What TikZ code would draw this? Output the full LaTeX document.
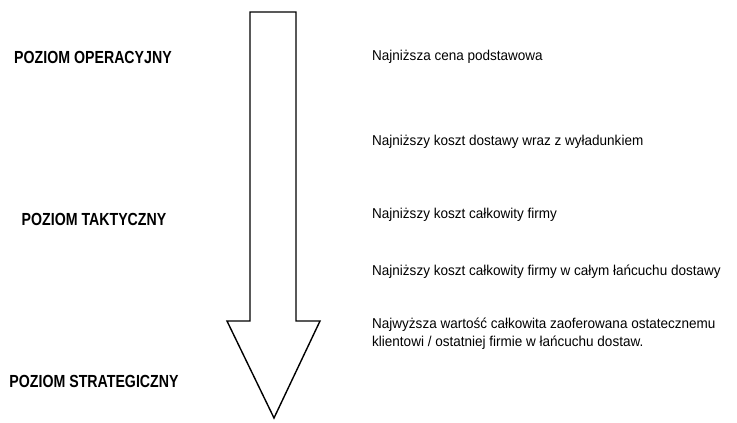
\documentclass[tikz,border=0pt]{standalone}
\usepackage{fontspec}
\setmainfont{Liberation Sans}[FakeStretch=0.945]
\newfontfamily\levelfont{Liberation Sans}[FakeStretch=0.81]
\usepackage{tikz}
\usetikzlibrary{positioning}

\begin{document}
\begin{tikzpicture}[x=1pt, y=-1pt,
          level/.style={font=\levelfont\fontsize{17.5}{20}\selectfont\bfseries, anchor=center, inner sep=0pt},
          desc/.style={font=\fontsize{14.3}{18}\selectfont, anchor=west, align=left, inner sep=0pt},
          flow/.style={draw, line width=1.4pt, line join=miter, fill=white}
        ]
        \useasboundingbox (0,0) rectangle (737,423);

        % levels
        \node[level] (lvl1) at (93, 57)  {POZIOM OPERACYJNY};
        \node[level] (lvl2) at (94, 219) {POZIOM TAKTYCZNY};
        \node[level] (lvl3) at (94, 381) {POZIOM STRATEGICZNY};

        % big arrow
        \draw[flow] (250,12) -- (296,12) -- (296,321) -- (320,321)
              -- (274,418) -- (227,321) -- (250,321) -- cycle;

        % descriptions
        \node[desc] (d1) at (372, 57)  {Najniższa cena podstawowa};
        \node[desc] (d2) at (372, 142) {Najniższy koszt dostawy wraz z wyładunkiem};
        \node[desc] (d3) at (372, 215) {Najniższy koszt całkowity firmy};
        \node[desc] (d4) at (372, 272) {Najniższy koszt całkowity firmy w całym łańcuchu dostawy};
        \node[desc] (d5) at (372, 334)
              {Najwyższa wartość całkowita zaoferowana ostatecznemu\\klientowi / ostatniej firmie w łańcuchu dostaw.};
      \end{tikzpicture}
\end{document}
